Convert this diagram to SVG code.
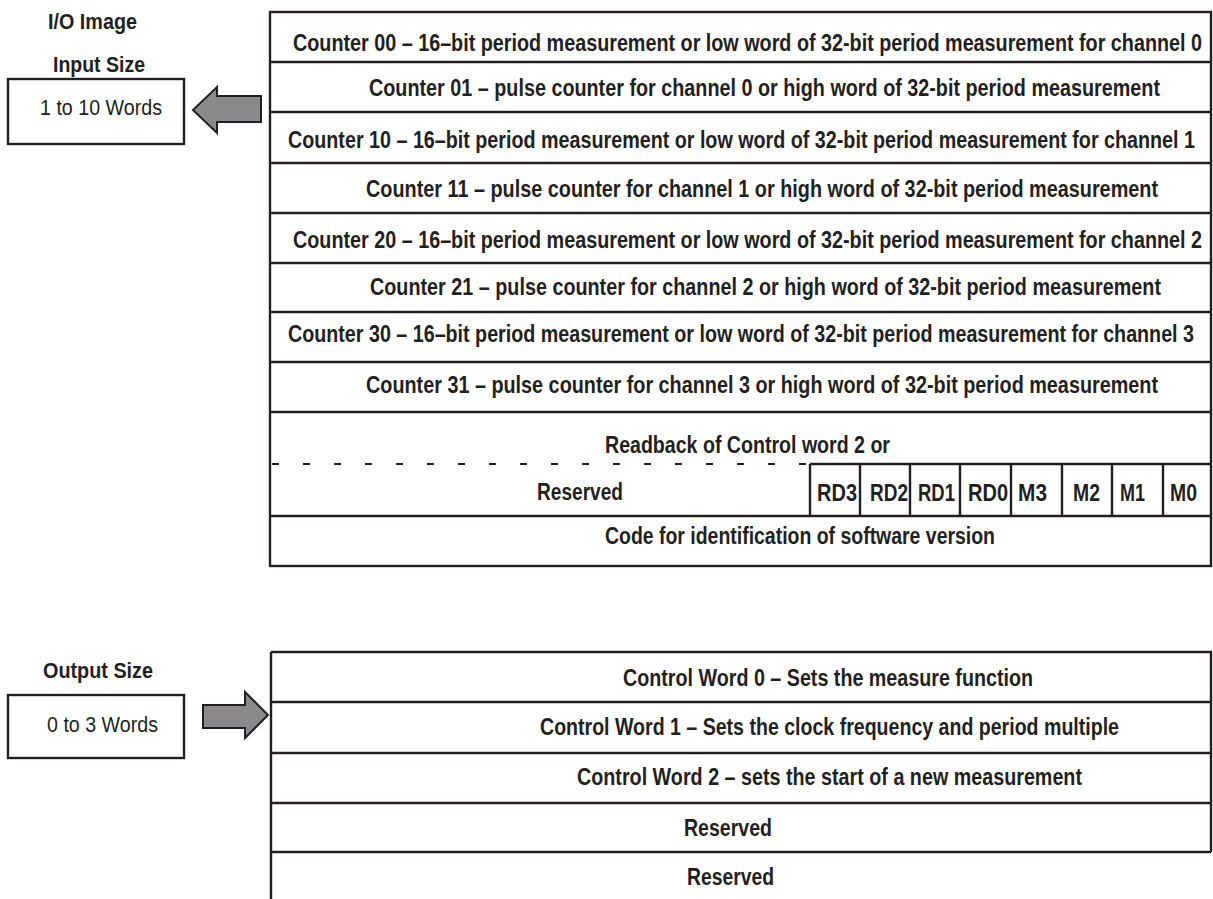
<svg xmlns="http://www.w3.org/2000/svg" width="1213" height="899" viewBox="0 0 1213 899">
<style>
.ln{stroke:#231f20;stroke-width:2.4;fill:none}
.dash{stroke:#231f20;stroke-width:2;fill:none;stroke-dasharray:7 24}
.bx{stroke:#231f20;stroke-width:2.4;fill:#fff}
.t{font-family:"Liberation Sans Narrow","Arial Narrow","Liberation Sans",Arial,sans-serif;font-weight:bold;font-size:23px;fill:#231f20}
.h{font-family:"Liberation Sans Narrow","Arial Narrow","Liberation Sans",Arial,sans-serif;font-weight:bold;font-size:22px;fill:#231f20}
.r{font-family:"Liberation Sans Narrow","Arial Narrow","Liberation Sans",Arial,sans-serif;font-weight:normal;font-size:22px;fill:#231f20}
.arr{fill:#8a8a8c;stroke:#231f20;stroke-width:2}
</style>
<rect width="1213" height="899" fill="#fff"/>
<g id="input-label">
<text class="h" x="48" y="29" textLength="89" lengthAdjust="spacingAndGlyphs">I/O Image</text>
<text class="h" x="53" y="72" textLength="92" lengthAdjust="spacingAndGlyphs">Input Size</text>
</g>
<g id="input-size">
<rect class="bx" x="8" y="79" width="176" height="65"/>
<text class="r" x="40" y="115" textLength="122" lengthAdjust="spacingAndGlyphs">1 to 10 Words</text>
</g>
<g id="output-label">
<text class="h" x="43" y="678" textLength="110" lengthAdjust="spacingAndGlyphs">Output Size</text>
</g>
<g id="output-size">
<rect class="bx" x="8" y="695" width="176" height="63"/>
<text class="r" x="47" y="732" textLength="111" lengthAdjust="spacingAndGlyphs">0 to 3 Words</text>
</g>
<g id="input-table">
<rect class="ln" x="270" y="12" width="941" height="554"/>
<path class="ln" d="M270 62H1211M270 112H1211M270 163H1211M270 213H1211M270 263H1211M270 312H1211M270 362H1211M270 412H1211M270 516H1211"/>
<path class="dash" d="M272 464H810"/>
<path class="ln" d="M810 464H1211M810 464V516M860 464V516M910 464V516M960 464V516M1011 464V516M1062 464V516M1112 464V516M1163 464V516"/>
<text class="t" x="293" y="51" textLength="909" lengthAdjust="spacingAndGlyphs">Counter 00 – 16–bit period measurement or low word of 32-bit period measurement for channel 0</text>
<text class="t" x="369" y="96" textLength="791" lengthAdjust="spacingAndGlyphs">Counter 01 – pulse counter for channel 0 or high word of 32-bit period measurement</text>
<text class="t" x="288" y="148" textLength="907" lengthAdjust="spacingAndGlyphs">Counter 10 – 16–bit period measurement or low word of 32-bit period measurement for channel 1</text>
<text class="t" x="366" y="197" textLength="792" lengthAdjust="spacingAndGlyphs">Counter 11 – pulse counter for channel 1 or high word of 32-bit period measurement</text>
<text class="t" x="293" y="248" textLength="909" lengthAdjust="spacingAndGlyphs">Counter 20 – 16–bit period measurement or low word of 32-bit period measurement for channel 2</text>
<text class="t" x="370" y="295" textLength="791" lengthAdjust="spacingAndGlyphs">Counter 21 – pulse counter for channel 2 or high word of 32-bit period measurement</text>
<text class="t" x="288" y="342" textLength="906" lengthAdjust="spacingAndGlyphs">Counter 30 – 16–bit period measurement or low word of 32-bit period measurement for channel 3</text>
<text class="t" x="366" y="393" textLength="792" lengthAdjust="spacingAndGlyphs">Counter 31 – pulse counter for channel 3 or high word of 32-bit period measurement</text>
<text class="t" x="605" y="453" textLength="285" lengthAdjust="spacingAndGlyphs">Readback of Control word 2 or</text>
<text class="t" x="537" y="500" textLength="86" lengthAdjust="spacingAndGlyphs">Reserved</text>
<text class="t" x="817" y="501" textLength="40" lengthAdjust="spacingAndGlyphs">RD3</text>
<text class="t" x="870" y="501" textLength="38" lengthAdjust="spacingAndGlyphs">RD2</text>
<text class="t" x="918" y="501" textLength="37" lengthAdjust="spacingAndGlyphs">RD1</text>
<text class="t" x="968" y="501" textLength="40" lengthAdjust="spacingAndGlyphs">RD0</text>
<text class="t" x="1018" y="501" textLength="29" lengthAdjust="spacingAndGlyphs">M3</text>
<text class="t" x="1073" y="501" textLength="27" lengthAdjust="spacingAndGlyphs">M2</text>
<text class="t" x="1120" y="501" textLength="25" lengthAdjust="spacingAndGlyphs">M1</text>
<text class="t" x="1170" y="501" textLength="27" lengthAdjust="spacingAndGlyphs">M0</text>
<text class="t" x="605" y="544" textLength="390" lengthAdjust="spacingAndGlyphs">Code for identification of software version</text>
</g>
<g id="output-table">
<path class="ln" d="M271 652H1211V852M271 652V899M271 702H1211M271 753H1211M271 803H1211M271 852H1211"/>
<text class="t" x="623" y="686" textLength="410" lengthAdjust="spacingAndGlyphs">Control Word 0 – Sets the measure function</text>
<text class="t" x="540" y="735" textLength="579" lengthAdjust="spacingAndGlyphs">Control Word 1 – Sets the clock frequency and period multiple</text>
<text class="t" x="577" y="785" textLength="505" lengthAdjust="spacingAndGlyphs">Control Word 2 – sets the start of a new measurement</text>
<text class="t" x="684" y="836" textLength="88" lengthAdjust="spacingAndGlyphs">Reserved</text>
<text class="t" x="687" y="885" textLength="87" lengthAdjust="spacingAndGlyphs">Reserved</text>
</g>
<g id="connectors">
<polygon class="arr" points="261,96 217,96 217,87 193,110 217,133 217,122 261,122"/>
<polygon class="arr" points="203,705 245,705 245,692 268,715 245,738 245,728 203,728"/>
</g>
</svg>
